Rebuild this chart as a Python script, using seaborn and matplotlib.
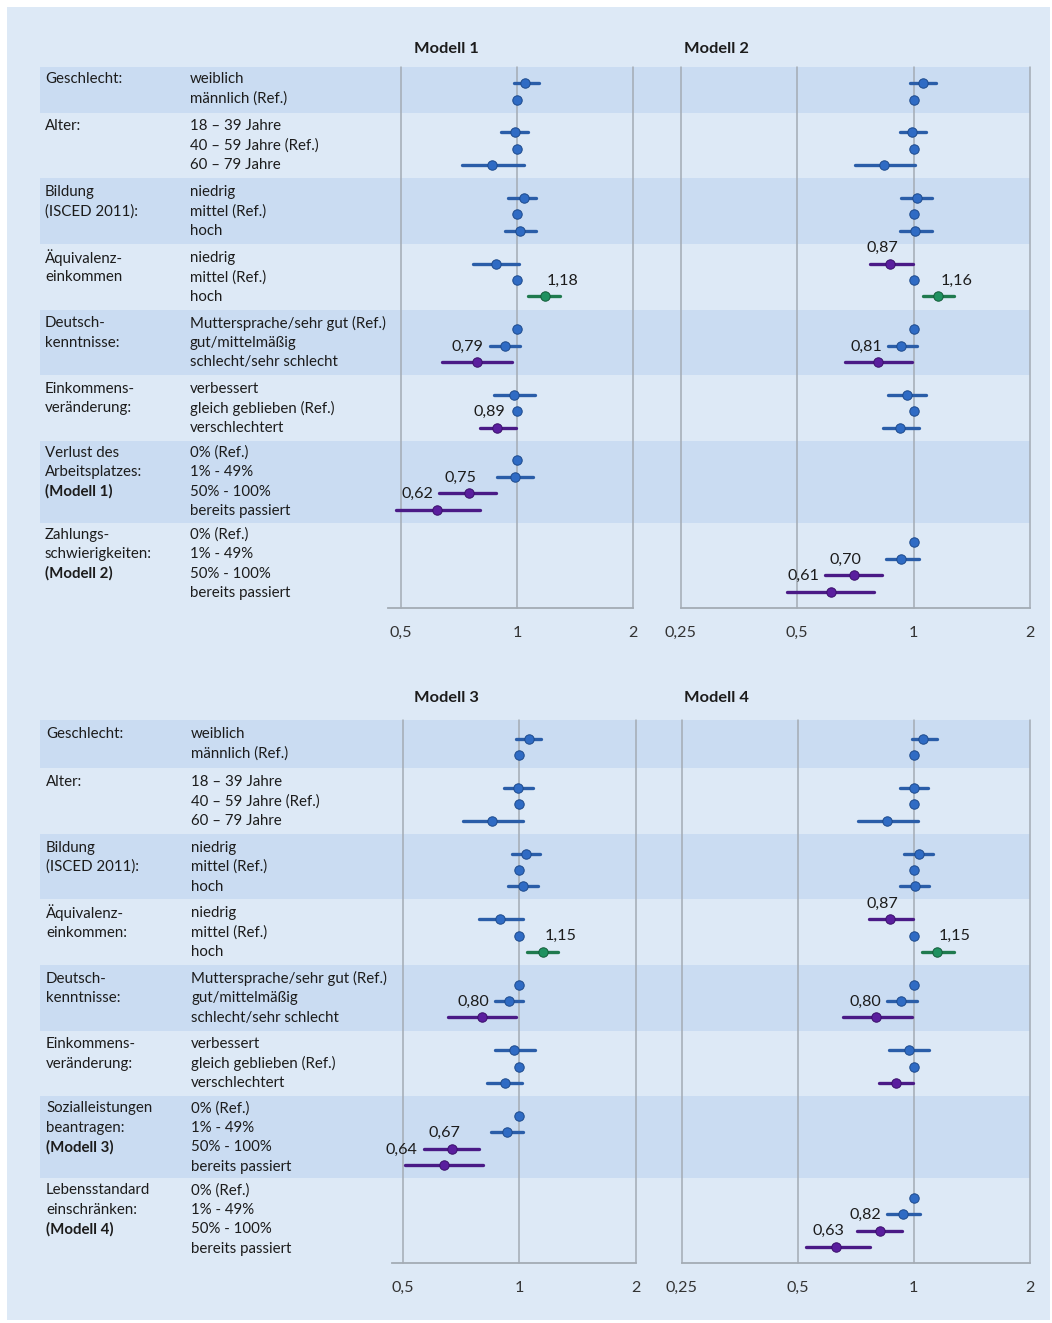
import numpy as np
import pandas as pd
import matplotlib
matplotlib.use("Agg")
import matplotlib.pyplot as plt
import seaborn as sns
from matplotlib.patches import Rectangle

sns.set_theme(style="white")
plt.rcParams['font.family'] = ['Lato', 'DejaVu Sans']

nan = np.nan

# ---------------- labels ----------------
top_groups = [["Geschlecht:"], ["Alter:"], ["Bildung", "(ISCED 2011):"],
              ["Äquivalenz-", "einkommen"], ["Deutsch-", "kenntnisse:"],
              ["Einkommens-", "veränderung:"],
              ["Verlust des", "Arbeitsplatzes:", "(Modell 1)"],
              ["Zahlungs-", "schwierigkeiten:", "(Modell 2)"]]
bottom_groups = [["Geschlecht:"], ["Alter:"], ["Bildung", "(ISCED 2011):"],
                 ["Äquivalenz-", "einkommen:"], ["Deutsch-", "kenntnisse:"],
                 ["Einkommens-", "veränderung:"],
                 ["Sozialleistungen", "beantragen:", "(Modell 3)"],
                 ["Lebensstandard", "einschränken:", "(Modell 4)"]]
shares = ["0% (Ref.)", "1% - 49%", "50% - 100%", "bereits passiert"]
levels = [["weiblich", "männlich (Ref.)"],
          ["18 – 39 Jahre", "40 – 59 Jahre (Ref.)", "60 – 79 Jahre"],
          ["niedrig", "mittel (Ref.)", "hoch"],
          ["niedrig", "mittel (Ref.)", "hoch"],
          ["Muttersprache/sehr gut (Ref.)", "gut/mittelmäßig", "schlecht/sehr schlecht"],
          ["verbessert", "gleich geblieben (Ref.)", "verschlechtert"],
          shares, shares]

# ---------------- odds ratios (25 rows per model) ----------------
m1_est = [1.05, 1, 0.99, 1, 0.86, 1.04, 1, 1.02, 0.88, 1, 1.18, 1, 0.93, 0.79,
          0.98, 1, 0.89, 1, 0.99, 0.75, 0.62, nan, nan, nan, nan]
m1_lo = [0.98, 1, 0.91, 1, 0.72, 0.95, 1, 0.93, 0.77, 1, 1.07, 1, 0.85, 0.64,
         0.87, 1, 0.80, 1, 0.89, 0.63, 0.485, nan, nan, nan, nan]
m1_hi = [1.14, 1, 1.07, 1, 1.04, 1.12, 1, 1.12, 1.01, 1, 1.29, 1, 1.02, 0.97,
         1.11, 1, 0.995, 1, 1.10, 0.88, 0.80, nan, nan, nan, nan]
m1_lab = ["", "", "", "", "", "", "", "", "", "", "1,18", "", "", "0,79",
          "", "", "0,89", "", "", "0,75", "0,62", "", "", "", ""]

m2_est = [1.06, 1, 0.99, 1, 0.84, 1.02, 1, 1.01, 0.87, 1, 1.16, 1, 0.93, 0.81,
          0.96, 1, 0.92, nan, nan, nan, nan, 1, 0.93, 0.70, 0.61]
m2_lo = [0.98, 1, 0.92, 1, 0.705, 0.93, 1, 0.92, 0.77, 1, 1.055, 1, 0.86, 0.665,
         0.86, 1, 0.835, nan, nan, nan, nan, 1, 0.85, 0.59, 0.47]
m2_hi = [1.14, 1, 1.08, 1, 1.01, 1.115, 1, 1.115, 0.995, 1, 1.27, 1, 1.02, 0.99,
         1.08, 1, 1.03, nan, nan, nan, nan, 1, 1.03, 0.83, 0.79]
m2_lab = ["", "", "", "", "", "", "", "", "0,87", "", "1,16", "", "", "0,81",
          "", "", "", "", "", "", "", "", "", "0,70", "0,61"]

m3_est = [1.06, 1, 0.99, 1, 0.85, 1.04, 1, 1.02, 0.89, 1, 1.15, 1, 0.94, 0.80,
          0.97, 1, 0.92, 1, 0.93, 0.67, 0.64, nan, nan, nan, nan]
m3_lo = [0.98, 1, 0.915, 1, 0.715, 0.955, 1, 0.935, 0.785, 1, 1.047, 1, 0.865, 0.655,
         0.865, 1, 0.827, 1, 0.847, 0.566, 0.507, nan, nan, nan, nan]
m3_hi = [1.137, 1, 1.084, 1, 1.02, 1.13, 1, 1.117, 1.02, 1, 1.26, 1, 1.024, 0.978,
         1.095, 1, 1.018, 1, 1.024, 0.787, 0.804, nan, nan, nan, nan]
m3_lab = ["", "", "", "", "", "", "", "", "", "", "1,15", "", "", "0,80",
          "", "", "", "", "", "0,67", "0,64", "", "", "", ""]

m4_est = [1.06, 1, 1.0, 1, 0.85, 1.03, 1, 1.01, 0.87, 1, 1.15, 1, 0.925, 0.80,
          0.97, 1, 0.90, nan, nan, nan, nan, 1, 0.94, 0.82, 0.63]
m4_lo = [0.99, 1, 0.92, 1, 0.716, 0.944, 1, 0.922, 0.766, 1, 1.05, 1, 0.853, 0.656,
         0.865, 1, 0.815, nan, nan, nan, nan, 1, 0.855, 0.714, 0.526]
m4_hi = [1.147, 1, 1.087, 1, 1.024, 1.12, 1, 1.098, 0.996, 1, 1.27, 1, 1.018, 0.992,
         1.098, 1, 0.994, nan, nan, nan, nan, 1, 1.036, 0.934, 0.769]
m4_lab = ["", "", "", "", "", "", "", "", "0,87", "", "1,15", "", "", "0,80",
          "", "", "", "", "", "", "", "", "", "0,82", "0,63"]

ticks_a = [0.5, 1, 2]
ticklabels_a = ["0,5", "1", "2"]
ticks_b = [0.25, 0.5, 1, 2]
ticklabels_b = ["0,25", "0,5", "1", "2"]

# ---------------- style ----------------
W, H = 1052, 1323
BG = "#dde9f6"
BAND = "#cadcf2"
GRID = "#a3abb4"
TXT = "#1c1c1c"
FS = 10.8
COLORS = {"ns": ("#2f6bc4", "#2a5da8", "#1d4a8c"),
          "neg": ("#5a1e9e", "#4a1a86", "#3a0f6a"),
          "pos": ("#1f9160", "#1f7a4e", "#125c38")}

fig = plt.figure(figsize=(W / 100, H / 100), dpi=100)
fig.patch.set_facecolor("white")
fig.patches.append(Rectangle((7 / W, 1 - 1320 / H), (1050 - 7) / W, (1320 - 7) / H,
                             transform=fig.transFigure, facecolor=BG, edgecolor="none",
                             zorder=-10))


def rect(x0, y0, x1, y1):
    return [x0 / W, 1 - y1 / H, (x1 - x0) / W, (y1 - y0) / H]


def row_positions(levs):
    pos, r = [], 0
    for lv in levs:
        grp = []
        for _ in lv:
            grp.append(r)
            r += 1
        pos.append(grp)
        r += 1
    return pos


def draw_panel(y_top, y_bot, ytop_row, groups, xl_label, xl_level, axes_spec, title_y):
    pos = row_positions(levels)
    flat = [p for g in pos for p in g]
    ylim = (32, ytop_row)
    bg = fig.add_axes(rect(40, y_top, 1030, y_bot), zorder=0)
    bg.set_xlim(40, 1030)
    bg.set_ylim(*ylim)
    bg.axis("off")
    prev = ytop_row
    for i, g in enumerate(pos):
        end = g[-1] + 0.8
        if i % 2 == 0:
            bg.axhspan(prev, end, color=BAND, lw=0)
        prev = end
    ts = 1.19
    for g, gl, lv in zip(pos, groups, levels):
        c = np.mean(g) - 0.18
        n = len(g)
        for j, t in enumerate(lv):
            y = c + (j - (n - 1) / 2) * ts
            bg.text(xl_level, y, t, fontsize=FS, color=TXT, va="center", ha="left")
        for j, t in enumerate(gl):
            y = c + (j - (n - 1) / 2) * ts
            bold = t.startswith("(Modell")
            bg.text(xl_label, y, t, fontsize=FS, color=TXT, va="center", ha="left",
                    fontweight="bold" if bold else "normal")

    for (x0, x1, xmin, ticks, tlabs, est, lo, hi, lab, title, tx) in axes_spec:
        ax = fig.add_axes(rect(x0, y_top, x1, y_bot), zorder=2)
        ax.patch.set_alpha(0)
        ax.set_xscale("log", base=2)
        ax.set_xlim(xmin, 2)
        ax.set_ylim(*ylim)
        for t in ticks:
            ax.axvline(t, color=GRID, lw=1.1, zorder=1, clip_on=False)
        for s in ["top", "left", "right"]:
            ax.spines[s].set_visible(False)
        ax.spines["bottom"].set_color(GRID)
        ax.spines["bottom"].set_linewidth(1.3)
        ax.set_xticks(ticks)
        ax.set_xticklabels(tlabs)
        ax.xaxis.set_minor_locator(matplotlib.ticker.NullLocator())
        ax.tick_params(axis="x", length=0, pad=13, labelsize=FS + 0.8, labelcolor="#333333")
        ax.set_yticks([])

        df = pd.DataFrame({"row": flat, "est": est, "lo": lo, "hi": hi, "lab": lab})
        df = df.dropna(subset=["est"])
        df["sig"] = np.where(df["hi"] < 1, "neg", np.where(df["lo"] > 1, "pos", "ns"))
        for key, (fc, lc, ec) in COLORS.items():
            sub = df[df["sig"] == key]
            if sub.empty:
                continue
            ci = sub[sub["hi"] > sub["lo"]]
            ax.hlines(ci["row"], ci["lo"], ci["hi"], color=lc, lw=2.4, zorder=3,
                      capstyle="round")
            sns.scatterplot(data=sub, x="est", y="row", ax=ax, color=fc, s=46,
                            edgecolor=ec, linewidth=0.7, zorder=4, legend=False)
        ax.set_xlabel("")
        ax.set_ylabel("")
        ax.set_xlim(xmin, 2)
        ax.set_ylim(*ylim)

        # value labels
        lookup = {r: (e, l, h) for r, e, l, h in zip(df["row"], df["est"], df["lo"], df["hi"])}
        for r, e, l, h, t in zip(df["row"], df["est"], df["lo"], df["hi"], df["lab"]):
            if not t:
                continue
            px = ax.transData.transform((e, r))
            if e > 1:
                xd = ax.transData.inverted().transform((px[0] + 2, px[1]))[0]
                ax.text(xd, r - 0.95, t, fontsize=FS + 0.8, color=TXT, ha="left", va="center")
            else:
                right = px[0] + 8
                if (r - 1) in lookup:
                    ue, ul, uh = lookup[r - 1]
                    if uh > ul:
                        right = min(right, ax.transData.transform((ul, r))[0] - 6)
                xd = ax.transData.inverted().transform((right, px[1]))[0]
                ax.text(xd, r - 0.95, t, fontsize=FS + 0.8, color=TXT, ha="right", va="center")

        fig.text(tx / W, 1 - title_y / H, title, fontsize=FS + 1.0, fontweight="bold",
                 color=TXT, ha="center", va="center")


draw_panel(66.9, 608, -1.0, top_groups, 45, 190,
           [(388, 633.3, 2 ** -1.109, ticks_a, ticklabels_a, m1_est, m1_lo, m1_hi, m1_lab, "Modell 1", 446),
            (680.7, 1030, 0.25, ticks_b, ticklabels_b, m2_est, m2_lo, m2_hi, m2_lab, "Modell 2", 716)],
           49)
draw_panel(720, 1263.3, -1.15, bottom_groups, 46, 191,
           [(391.7, 636, 2 ** -1.094, ticks_a, ticklabels_a, m3_est, m3_lo, m3_hi, m3_lab, "Modell 3", 446),
            (681.7, 1029.7, 0.25, ticks_b, ticklabels_b, m4_est, m4_lo, m4_hi, m4_lab, "Modell 4", 716)],
           698)

fig.savefig("out.png", dpi=100, facecolor="white")
